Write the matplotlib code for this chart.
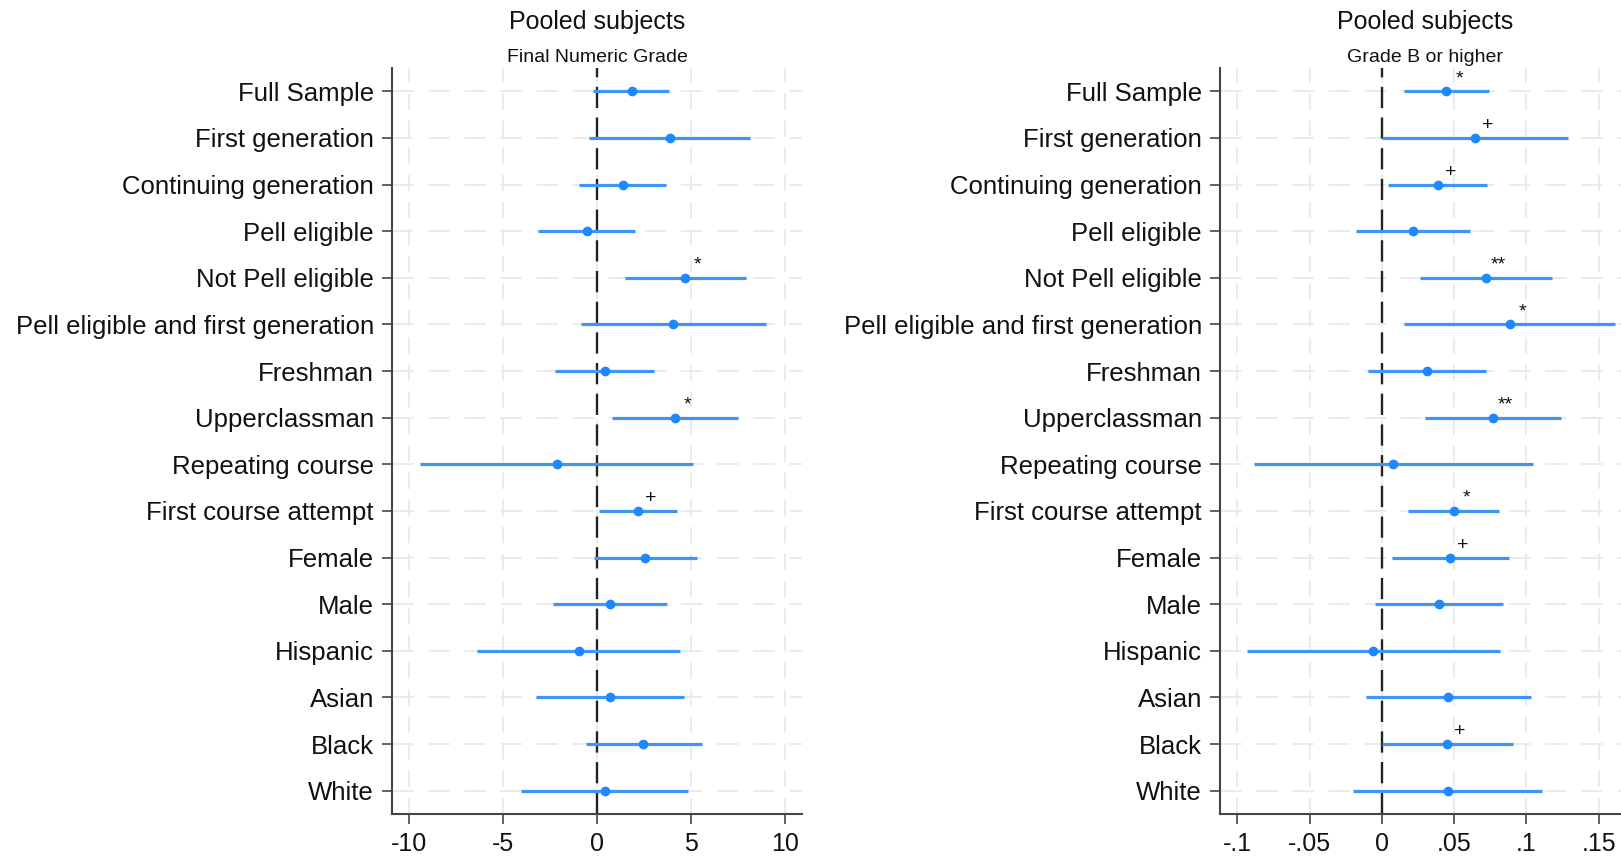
import numpy as np
import matplotlib
matplotlib.use("Agg")
import matplotlib.pyplot as plt

plt.rcParams['font.family'] = ['Liberation Sans', 'DejaVu Sans']

# categories (top to bottom)
groupes = ["Full Sample", "First generation", "Continuing generation", "Pell eligible",
           "Not Pell eligible", "Pell eligible and first generation", "Freshman",
           "Upperclassman", "Repeating course", "First course attempt", "Female",
           "Male", "Hispanic", "Asian", "Black", "White"]

# left panel : Final Numeric Grade
note_coef = [1.85, 3.88, 1.40, -0.55, 4.70, 4.06, 0.43, 4.17, -2.14, 2.20, 2.55,
             0.69, -0.96, 0.69, 2.47, 0.43]
note_bas = [-0.20, -0.41, -0.94, -3.16, 1.49, -0.85, -2.23, 0.78, -9.41, 0.12, -0.16,
            -2.34, -6.37, -3.26, -0.60, -4.04]
note_haut = [3.83, 8.14, 3.67, 2.02, 7.93, 8.97, 3.05, 7.52, 5.09, 4.27, 5.30,
             3.71, 4.41, 4.65, 5.57, 4.86]
note_sig = ["", "", "", "", "*", "", "", "*", "", "+", "", "", "", "", "", ""]

# right panel : Grade B or higher
b_coef = [0.0447, 0.0646, 0.0387, 0.0215, 0.0722, 0.0884, 0.0312, 0.0766, 0.0076,
          0.0498, 0.0474, 0.0396, -0.0058, 0.0458, 0.0451, 0.0458]
b_bas = [0.0150, 0.0000, 0.0042, -0.0178, 0.0266, 0.0150, -0.0093, 0.0296, -0.0887,
         0.0180, 0.0072, -0.0047, -0.0930, -0.0109, 0.0004, -0.0197]
b_haut = [0.0743, 0.1285, 0.0724, 0.0609, 0.1176, 0.1610, 0.0722, 0.1238, 0.1044,
          0.0812, 0.0882, 0.0835, 0.0817, 0.1030, 0.0905, 0.1106]
b_sig = ["*", "+", "+", "", "**", "*", "", "**", "", "*", "+", "", "", "", "+", ""]

note_ticks = [-10, -5, 0, 5, 10]
note_ticklabels = ["-10", "-5", "0", "5", "10"]
b_ticks = [-0.1, -0.05, 0, 0.05, 0.1, 0.15]
b_ticklabels = ["-.1", "-.05", "0", ".05", ".1", ".15"]

bleu = "#1e88ff"
bleu_ligne = "#3d95f5"

fig = plt.figure(figsize=(16.21, 8.59), dpi=100)
ax1 = fig.add_axes([0.2418, 0.0524, 0.253, 0.8684])
ax2 = fig.add_axes([0.7526, 0.0524, 0.2530, 0.8684])


def panneau(ax, coef, bas, haut, sig, ticks, ticklabels, xlim, soustitre):
    n = len(groupes)
    y = np.arange(1, n + 1)
    ax.set_ylim(n + 0.5, 0.5)
    ax.set_xlim(xlim)
    # grid
    for t in ticks:
        ax.axvline(t, color="#e9e9e9", lw=1.3, dashes=(9, 6), zorder=0)
    for yy in y:
        ax.axhline(yy, color="#e9e9e9", lw=1.3, dashes=(12, 8), zorder=0)
    ax.axvline(0, color="#222222", lw=1.7, dashes=(9, 4), zorder=1)
    ax.hlines(y, bas, haut, color=bleu_ligne, lw=2.3, zorder=2)
    ax.plot(coef, y, "o", color=bleu, ms=6, zorder=3)
    for i in range(n):
        if sig[i] != "":
            ax.annotate(sig[i], (coef[i], y[i]), xytext=(9, 9), textcoords="offset points",
                        ha="center", va="center", fontsize=14, color="#111111")
    ax.set_yticks(y)
    ax.set_yticklabels(groupes, fontsize=18.5, color="#111111")
    ax.set_xticks(ticks)
    ax.set_xticklabels(ticklabels, fontsize=18, color="#111111")
    ax.tick_params(axis="both", length=7, width=1.3, color="#555555", pad=6)
    for s in ["top", "right"]:
        ax.spines[s].set_visible(False)
    for s in ["left", "bottom"]:
        ax.spines[s].set_color("#444444")
        ax.spines[s].set_linewidth(1.5)
    ax.text(0.5, 1.062, "Pooled subjects", transform=ax.transAxes, ha="center",
            va="center", fontsize=18, color="#111111")
    ax.text(0.5, 1.014, soustitre, transform=ax.transAxes, ha="center", va="center",
            fontsize=14, color="#111111")


panneau(ax1, note_coef, note_bas, note_haut, note_sig, note_ticks, note_ticklabels,
        (-10.9, 10.9), "Final Numeric Grade")
panneau(ax2, b_coef, b_bas, b_haut, b_sig, b_ticks, b_ticklabels,
        (-0.112, 0.1717), "Grade B or higher")

fig.savefig("out.png", dpi=100)
